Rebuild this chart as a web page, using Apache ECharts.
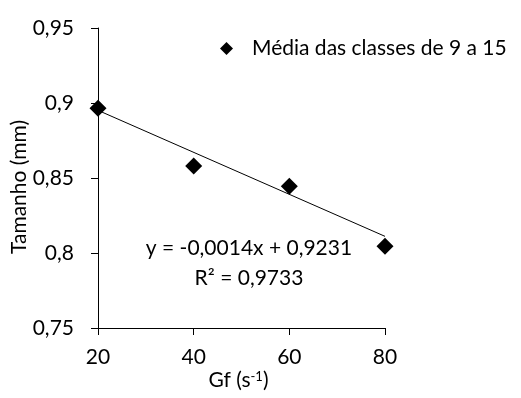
<!DOCTYPE html>
<html><head><meta charset="utf-8">
<script src="https://cdn.jsdelivr.net/npm/echarts@6/dist/echarts.min.js"></script>
<style>html,body{margin:0;padding:0;background:#fff}#c{width:521px;height:398px}</style>
</head><body><div id="c"></div>
<script>
var xValues = [20, 40, 60, 80];
var yValues = [0.8965, 0.858, 0.8445, 0.8045];
var seriesName = 'Média das classes de 9 a 15';
var slope = -0.0014, intercept = 0.9231;
var trendX = [20, 80];
var equationText = 'y = -0,0014x + 0,9231';
var r2Text = 'R² = 0,9733';
var xTicks = [20, 40, 60, 80];
var yTicks = [0.75, 0.8, 0.85, 0.9, 0.95];
var xTitle = 'Gf (s{sup|-1})';
var yTitle = 'Tamanho (mm)';

var FONT = 'Lato';
var FS = 21;
var chart = echarts.init(document.getElementById('c'));
function fmt(v){ return String(+(+v).toFixed(2)).replace('.', ','); }
chart.setOption({
  animation: false,
  textStyle: {fontFamily: FONT, color: '#000'},
  grid: {left: 98, right: 136, top: 28, bottom: 70, containLabel: false, outerBoundsMode: 'none'},
  legend: {
    data: [{name: seriesName, icon: 'diamond'}],
    left: 215, top: 33, itemWidth: 13, itemHeight: 13, itemGap: 10,
    textStyle: {fontFamily: FONT, fontSize: FS, color: '#000', padding: [0, 0, 0, 14]}
  },
  xAxis: {
    type: 'value', min: 20, max: 80, interval: 20,
    axisLine: {lineStyle: {color: '#000', width: 1}},
    axisTick: {show: true, inside: false, length: 7, lineStyle: {color: '#000'}},
    splitLine: {show: false},
    axisLabel: {fontFamily: FONT, fontSize: FS, color: '#000', margin: 19, formatter: fmt},
    name: xTitle, nameLocation: 'middle', nameGap: 42, nameMoveOverlap: false,
    nameTextStyle: {fontFamily: FONT, fontSize: FS, color: '#000', padding: [0, 6, 0, 0],
      rich: {sup: {fontFamily: FONT, fontSize: 13, color: '#000', verticalAlign: 'top', padding: [0, 0, 8, 0]}}}
  },
  yAxis: {
    type: 'value', min: 0.75, max: 0.95, interval: 0.05,
    axisLine: {show: true, lineStyle: {color: '#000', width: 1}},
    axisTick: {show: true, inside: false, length: 7, lineStyle: {color: '#000'}},
    splitLine: {show: false},
    axisLabel: {fontFamily: FONT, fontSize: FS, color: '#000', margin: 24, formatter: fmt},
    name: yTitle, nameLocation: 'middle', nameGap: 68, nameRotate: 90, nameMoveOverlap: false,
    nameTextStyle: {fontFamily: FONT, fontSize: FS, color: '#000', padding: [0, 18, 0, 0]}
  },
  series: [
    {
      name: 'trend', type: 'line', silent: true, symbol: 'none',
      data: trendX.map(function(x){ return [x, intercept + slope * x]; }),
      lineStyle: {color: '#000', width: 1}, z: 1
    },
    {
      name: seriesName, type: 'scatter', symbol: 'diamond', symbolSize: 17,
      itemStyle: {color: '#000', opacity: 1},
      data: xValues.map(function(x, i){ return [x, yValues[i]]; }), z: 2
    }
  ],
  graphic: [
    {type: 'text', x: 249, y: 238, style: {text: equationText, font: FS + 'px ' + FONT, fill: '#000', align: 'center'}},
    {type: 'text', x: 249, y: 268, style: {text: r2Text, font: FS + 'px ' + FONT, fill: '#000', align: 'center'}}
  ]
});
</script></body></html>
